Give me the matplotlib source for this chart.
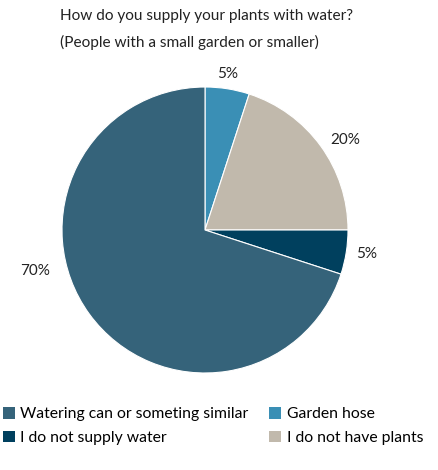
import matplotlib
matplotlib.use("Agg")
import matplotlib.pyplot as plt
from matplotlib.patches import Patch

# Survey answers, drawn clockwise from 12 o'clock
categories = ["Garden hose", "I do not have plants", "I do not supply water",
              "Watering can or someting similar"]
shares = [5, 20, 5, 70]
colors = ["#3a8fb5", "#c1b9ac", "#00405e", "#35637a"]
pct_labels = ["5%", "20%", "5%", "70%"]
# label anchor points in pie units (radius = 1)
label_pos = [(0.16, 1.09), (0.98, 0.63), (1.13, -0.17), (-1.19, -0.29)]

legend_order = ["Watering can or someting similar", "I do not supply water",
                "Garden hose", "I do not have plants"]

title_lines = ["How do you supply your plants with water?",
               "(People with a small garden or smaller)"]

FONT = "Lato"
W, H = 439, 470
fig = plt.figure(figsize=(W / 100, H / 100), dpi=100)
renderer = fig.canvas.get_renderer()


def fit_size(text, width_px, base=12):
    """Font size at which `text` spans roughly width_px pixels."""
    t = fig.text(0, 0, text, fontsize=base, family=FONT)
    w = t.get_window_extent(renderer).width
    t.remove()
    return base * width_px / w


cx, cy, r = 205, 230, 143
ax = fig.add_axes([(cx - r) / W, (H - cy - r) / H, 2 * r / W, 2 * r / H])
ax.pie(shares, colors=colors, startangle=90, counterclock=False,
       wedgeprops=dict(edgecolor="white", linewidth=0.8))
ax.set_xlim(-1, 1)
ax.set_ylim(-1, 1)
ax.set_aspect("auto")
ax.axis("off")

for txt, (x, y) in zip(pct_labels, label_pos):
    ax.text(x, y, txt, ha="center", va="center", fontsize=11,
            family=FONT, color="#222222", clip_on=False)

title_size = fit_size(title_lines[0], 292)
fig.text(60 / W, 1 - 16 / H, title_lines[0], ha="left", va="center",
         fontsize=title_size, family=FONT, color="#222222")
fig.text(60 / W, 1 - 42 / H, title_lines[1], ha="left", va="center",
         fontsize=title_size, family=FONT, color="#222222")

legend_size = fit_size(legend_order[0], 227)
color_of = dict(zip(categories, colors))
handles = [Patch(facecolor=color_of[c], edgecolor="none", label=c) for c in legend_order]
fig.legend(handles=handles, loc="upper left", bbox_to_anchor=(0.0, 1 - 404 / H),
           ncol=2, frameon=False, handlelength=0.75, handleheight=0.75,
           handletextpad=0.35, columnspacing=1.3, labelspacing=0.6,
           prop=dict(family=FONT, size=legend_size), borderaxespad=0,
           borderpad=0.2)

fig.savefig("out.png", dpi=100)
